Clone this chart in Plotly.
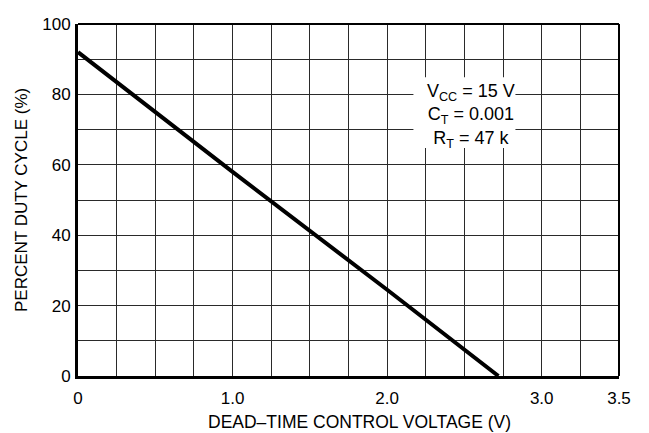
import plotly.graph_objects as go

# Data
dead_time_v = [0.0, 1.0, 2.0, 2.72]
duty_cycle_pct = [92.0, 58.0, 24.5, 0.0]

x_tick_vals = [0, 1.0, 2.0, 3.0, 3.5]
x_tick_text = ["0", "1.0", "2.0", "3.0", "3.5"]
y_tick_vals = [0, 20, 40, 60, 80, 100]
y_tick_text = ["0", "20", "40", "60", "80", "100"]

note_lines = ["V<sub>CC</sub> = 15 V", "C<sub>T</sub> = 0.001", "R<sub>T</sub> = 47 k"]

x_title = "DEAD–TIME CONTROL VOLTAGE (V)"
y_title = "PERCENT DUTY CYCLE (%)"

FONT = "Liberation Sans, Arial, Helvetica, sans-serif"
GRID = "#2a2a2a"

fig = go.Figure()
fig.add_trace(go.Scatter(
    x=dead_time_v, y=duty_cycle_pct, mode="lines",
    line=dict(color="black", width=4),
    showlegend=False, hoverinfo="skip",
))

annotations = [
    dict(x=2.54, y=74.0, xref="x", yref="y", text="<br>".join(note_lines),
         showarrow=False, align="center", borderpad=0,
         font=dict(size=18, family=FONT, color="black")),
    dict(x=0.521, y=0, xref="paper", yref="paper", yshift=-46, yanchor="middle",
         xanchor="center", text=x_title, showarrow=False,
         font=dict(size=17.5, family=FONT, color="black")),
    dict(x=0, y=0.5, xref="paper", yref="paper", xshift=-57, xanchor="center",
         yanchor="middle", textangle=-90, text=y_title, showarrow=False,
         font=dict(size=17, family=FONT, color="black")),
]

fig.update_layout(
    width=641, height=425,
    margin=dict(l=70, r=30, t=16, b=57),
    paper_bgcolor="white", plot_bgcolor="white",
    font=dict(family=FONT, color="black", size=17),
    xaxis=dict(
        range=[0, 3.5], tickvals=x_tick_vals, ticktext=x_tick_text,
        showgrid=True, gridcolor=GRID, gridwidth=1.3,
        minor=dict(dtick=0.25, tick0=0, showgrid=True, gridcolor=GRID, gridwidth=1.3, ticks=""),
        showline=True, linecolor="black", linewidth=3,
        ticks="", ticklabelstandoff=5,
        tickfont=dict(size=17),
        automargin=False, zeroline=False,
    ),
    yaxis=dict(
        range=[0, 100], tickvals=y_tick_vals, ticktext=y_tick_text,
        showgrid=True, gridcolor=GRID, gridwidth=1.3,
        minor=dict(dtick=10, tick0=0, showgrid=True, gridcolor=GRID, gridwidth=1.3, ticks=""),
        showline=True, linecolor="black", linewidth=3,
        ticks="", ticklabelstandoff=1,
        tickfont=dict(size=17),
        automargin=False, zeroline=False,
    ),
    shapes=[
        # white backing behind the parameter note
        dict(type="rect", xref="x", yref="y", x0=2.17, x1=2.83, y0=64.8, y1=84.9,
             fillcolor="white", line=dict(width=0), layer="above"),
        dict(type="line", xref="paper", yref="paper", x0=0, x1=1, y0=1, y1=1,
             line=dict(color="black", width=2)),
        dict(type="line", xref="paper", yref="paper", x0=1, x1=1, y0=0, y1=1,
             line=dict(color="black", width=2)),
    ],
    annotations=annotations,
)

fig.write_html("out.html")
